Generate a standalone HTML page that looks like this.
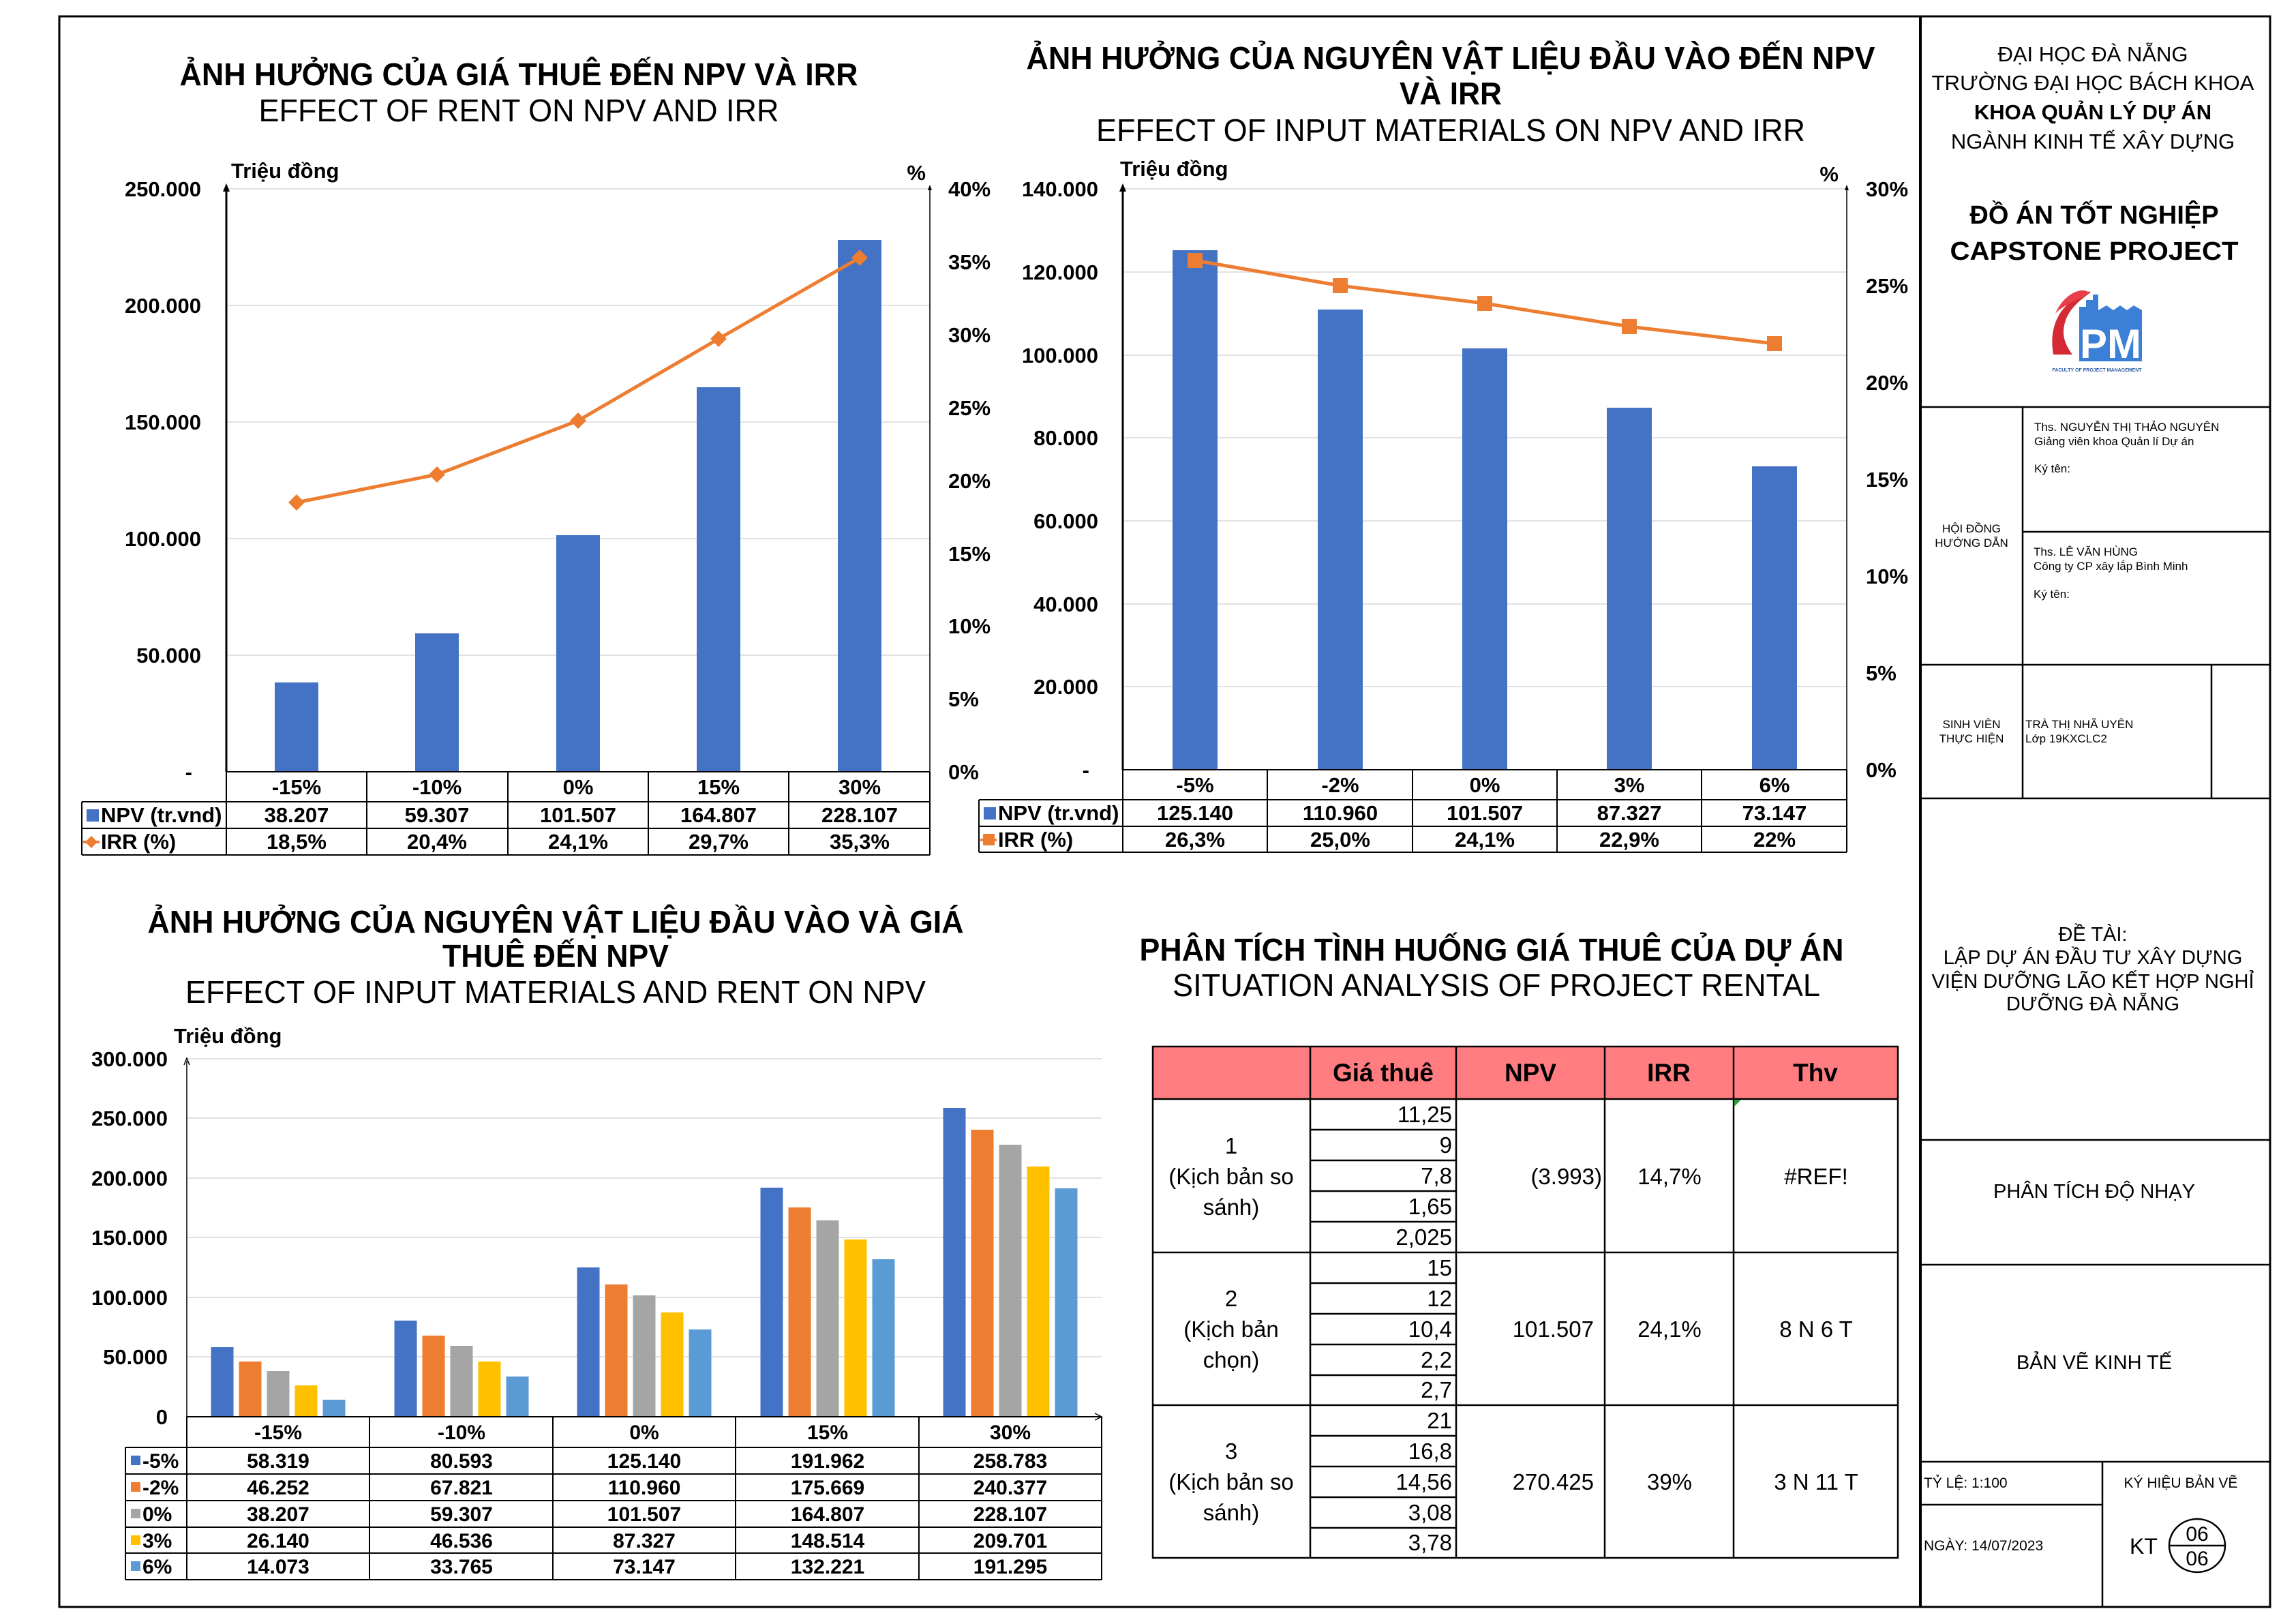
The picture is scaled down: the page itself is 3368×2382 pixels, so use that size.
<!DOCTYPE html>
<html><head><meta charset="utf-8"><style>
html,body{margin:0;padding:0;background:#fff}
svg{display:block}
text{font-family:"Liberation Sans",Arial,sans-serif;fill:#000}
.b{font-weight:bold}
</style></head><body>
<svg width="3368" height="2382" viewBox="0 0 3368 2382" xmlns="http://www.w3.org/2000/svg">
<rect width="3368" height="2382" fill="#fff"/>
<rect x="87" y="24" width="3243" height="2333" fill="none" stroke="#000" stroke-width="3"/>
<line x1="2817" y1="24" x2="2817" y2="2357" stroke="#000" stroke-width="4"/>

<!-- ================= CHART 1 ================= -->
<text x="761" y="125" text-anchor="middle" class="b" font-size="46" textLength="995" lengthAdjust="spacingAndGlyphs">ẢNH HƯỞNG CỦA GIÁ THUÊ ĐẾN NPV VÀ IRR</text>
<text x="761" y="178" text-anchor="middle" font-size="46" textLength="763" lengthAdjust="spacingAndGlyphs">EFFECT OF RENT ON NPV AND IRR</text>
<text x="339" y="261" class="b" font-size="31">Triệu đồng</text>
<text x="1358" y="264" text-anchor="end" class="b" font-size="31">%</text>
<g stroke="#d9d9d9" stroke-width="1.5">
<line x1="332" y1="277" x2="1364" y2="277"/><line x1="332" y1="448" x2="1364" y2="448"/>
<line x1="332" y1="619" x2="1364" y2="619"/><line x1="332" y1="790" x2="1364" y2="790"/>
<line x1="332" y1="961" x2="1364" y2="961"/></g>
<g class="b" font-size="31" text-anchor="end">
<text x="295" y="288">250.000</text><text x="295" y="459">200.000</text><text x="295" y="630">150.000</text>
<text x="295" y="801">100.000</text><text x="295" y="972">50.000</text><text x="282" y="1143">-</text></g>
<g class="b" font-size="31">
<text x="1391" y="288">40%</text><text x="1391" y="395">35%</text><text x="1391" y="502">30%</text>
<text x="1391" y="609">25%</text><text x="1391" y="716">20%</text><text x="1391" y="823">15%</text>
<text x="1391" y="929">10%</text><text x="1391" y="1036">5%</text><text x="1391" y="1143">0%</text></g>
<g fill="#4472C4">
<rect x="403" y="1001" width="64" height="131"/><rect x="609" y="929" width="64" height="203"/>
<rect x="816" y="785" width="64" height="347"/><rect x="1022" y="568" width="64" height="564"/>
<rect x="1229" y="352" width="64" height="780"/></g>
<line x1="332" y1="1132" x2="332" y2="279" stroke="#000" stroke-width="3"/>
<path d="M332 269 L327 281 L337 281Z"/>
<line x1="1364" y1="1132" x2="1364" y2="279" stroke="#000" stroke-width="1.5"/>
<path d="M1364 271 L1361 279 L1367 279Z"/>
<polyline points="435,737 641,696 848,617 1054,497 1261,378" fill="none" stroke="#ED7D31" stroke-width="5"/>
<g fill="#ED7D31">
<path d="M435 725 L447 737 L435 749 L423 737Z"/><path d="M641 684 L653 696 L641 708 L629 696Z"/>
<path d="M848 605 L860 617 L848 629 L836 617Z"/><path d="M1054 485 L1066 497 L1054 509 L1042 497Z"/>
<path d="M1261 366 L1273 378 L1261 390 L1249 378Z"/></g>
<g stroke="#000" stroke-width="2" fill="none">
<line x1="332" y1="1132" x2="1364" y2="1132"/>
<line x1="120" y1="1176" x2="1364" y2="1176"/><line x1="120" y1="1215" x2="1364" y2="1215"/>
<line x1="120" y1="1254" x2="1364" y2="1254"/>
<line x1="120" y1="1176" x2="120" y2="1254"/>
<line x1="332" y1="1132" x2="332" y2="1254"/><line x1="538" y1="1132" x2="538" y2="1254"/>
<line x1="745" y1="1132" x2="745" y2="1254"/><line x1="951" y1="1132" x2="951" y2="1254"/>
<line x1="1157" y1="1132" x2="1157" y2="1254"/><line x1="1364" y1="1132" x2="1364" y2="1254"/></g>
<g class="b" font-size="31" text-anchor="middle">
<text x="435" y="1165">-15%</text><text x="641" y="1165">-10%</text><text x="848" y="1165">0%</text><text x="1054" y="1165">15%</text><text x="1261" y="1165">30%</text>
<text x="435" y="1206">38.207</text><text x="641" y="1206">59.307</text><text x="848" y="1206">101.507</text><text x="1054" y="1206">164.807</text><text x="1261" y="1206">228.107</text>
<text x="435" y="1245">18,5%</text><text x="641" y="1245">20,4%</text><text x="848" y="1245">24,1%</text><text x="1054" y="1245">29,7%</text><text x="1261" y="1245">35,3%</text></g>
<rect x="127" y="1187" width="18" height="18" fill="#4472C4"/>
<text x="148" y="1206" class="b" font-size="31">NPV (tr.vnd)</text>
<line x1="122" y1="1235" x2="146" y2="1235" stroke="#ED7D31" stroke-width="4"/>
<path d="M134 1226 L143 1235 L134 1244 L125 1235Z" fill="#ED7D31"/>
<text x="148" y="1245" class="b" font-size="31">IRR (%)</text>

<!-- ================= CHART 2 ================= -->
<text x="2128" y="101" text-anchor="middle" class="b" font-size="46" textLength="1245" lengthAdjust="spacingAndGlyphs">ẢNH HƯỞNG CỦA NGUYÊN VẬT LIỆU ĐẦU VÀO ĐẾN NPV</text>
<text x="2128" y="153" text-anchor="middle" class="b" font-size="46" textLength="150" lengthAdjust="spacingAndGlyphs">VÀ IRR</text>
<text x="2128" y="207" text-anchor="middle" font-size="46" textLength="1040" lengthAdjust="spacingAndGlyphs">EFFECT OF INPUT MATERIALS ON NPV AND IRR</text>
<text x="1643" y="258" class="b" font-size="31">Triệu đồng</text>
<text x="2697" y="266" text-anchor="end" class="b" font-size="31">%</text>
<g stroke="#d9d9d9" stroke-width="1.5">
<line x1="1647" y1="277" x2="2709" y2="277"/><line x1="1647" y1="399" x2="2709" y2="399"/>
<line x1="1647" y1="521" x2="2709" y2="521"/><line x1="1647" y1="642" x2="2709" y2="642"/>
<line x1="1647" y1="764" x2="2709" y2="764"/><line x1="1647" y1="886" x2="2709" y2="886"/>
<line x1="1647" y1="1007" x2="2709" y2="1007"/></g>
<g class="b" font-size="31" text-anchor="end">
<text x="1611" y="288">140.000</text><text x="1611" y="410">120.000</text><text x="1611" y="532">100.000</text>
<text x="1611" y="653">80.000</text><text x="1611" y="775">60.000</text><text x="1611" y="897">40.000</text>
<text x="1611" y="1018">20.000</text><text x="1598" y="1140">-</text></g>
<g class="b" font-size="31">
<text x="2737" y="288">30%</text><text x="2737" y="430">25%</text><text x="2737" y="572">20%</text>
<text x="2737" y="714">15%</text><text x="2737" y="856">10%</text><text x="2737" y="998">5%</text><text x="2737" y="1140">0%</text></g>
<g fill="#4472C4">
<rect x="1720" y="367" width="66" height="762"/><rect x="1933" y="454" width="66" height="675"/>
<rect x="2145" y="511" width="66" height="618"/><rect x="2357" y="598" width="66" height="531"/>
<rect x="2570" y="684" width="66" height="445"/></g>
<line x1="1647" y1="1129" x2="1647" y2="279" stroke="#000" stroke-width="3"/>
<path d="M1647 269 L1642 281 L1652 281Z"/>
<line x1="2709" y1="1129" x2="2709" y2="279" stroke="#000" stroke-width="1.5"/>
<path d="M2709 271 L2706 279 L2712 279Z"/>
<polyline points="1753,382 1966,419 2178,445 2390,479 2603,504" fill="none" stroke="#ED7D31" stroke-width="5"/>
<g fill="#ED7D31">
<rect x="1742" y="371" width="22" height="22"/><rect x="1955" y="408" width="22" height="22"/>
<rect x="2167" y="434" width="22" height="22"/><rect x="2379" y="468" width="22" height="22"/>
<rect x="2592" y="493" width="22" height="22"/></g>
<g stroke="#000" stroke-width="2" fill="none">
<line x1="1647" y1="1129" x2="2709" y2="1129"/>
<line x1="1436" y1="1173" x2="2709" y2="1173"/><line x1="1436" y1="1212" x2="2709" y2="1212"/>
<line x1="1436" y1="1250" x2="2709" y2="1250"/>
<line x1="1436" y1="1173" x2="1436" y2="1250"/>
<line x1="1647" y1="1129" x2="1647" y2="1250"/><line x1="1859" y1="1129" x2="1859" y2="1250"/>
<line x1="2072" y1="1129" x2="2072" y2="1250"/><line x1="2284" y1="1129" x2="2284" y2="1250"/>
<line x1="2496" y1="1129" x2="2496" y2="1250"/><line x1="2709" y1="1129" x2="2709" y2="1250"/></g>
<g class="b" font-size="31" text-anchor="middle">
<text x="1753" y="1162">-5%</text><text x="1966" y="1162">-2%</text><text x="2178" y="1162">0%</text><text x="2390" y="1162">3%</text><text x="2603" y="1162">6%</text>
<text x="1753" y="1203">125.140</text><text x="1966" y="1203">110.960</text><text x="2178" y="1203">101.507</text><text x="2390" y="1203">87.327</text><text x="2603" y="1203">73.147</text>
<text x="1753" y="1242">26,3%</text><text x="1966" y="1242">25,0%</text><text x="2178" y="1242">24,1%</text><text x="2390" y="1242">22,9%</text><text x="2603" y="1242">22%</text></g>
<rect x="1443" y="1184" width="18" height="18" fill="#4472C4"/>
<text x="1464" y="1203" class="b" font-size="31">NPV (tr.vnd)</text>
<line x1="1438" y1="1232" x2="1462" y2="1232" stroke="#ED7D31" stroke-width="4"/>
<rect x="1442" y="1223" width="17" height="17" fill="#ED7D31"/>
<text x="1464" y="1242" class="b" font-size="31">IRR (%)</text>

<!-- ================= CHART 3 ================= -->
<text x="815" y="1368" text-anchor="middle" class="b" font-size="46" textLength="1197" lengthAdjust="spacingAndGlyphs">ẢNH HƯỞNG CỦA NGUYÊN VẬT LIỆU ĐẦU VÀO VÀ GIÁ</text>
<text x="815" y="1418" text-anchor="middle" class="b" font-size="46" textLength="332" lengthAdjust="spacingAndGlyphs">THUÊ ĐẾN NPV</text>
<text x="815" y="1471" text-anchor="middle" font-size="46" textLength="1086" lengthAdjust="spacingAndGlyphs">EFFECT OF INPUT MATERIALS AND RENT ON NPV</text>
<text x="255" y="1530" class="b" font-size="31">Triệu đồng</text>
<g stroke="#d9d9d9" stroke-width="1.5">
<line x1="274" y1="1553" x2="1616" y2="1553"/><line x1="274" y1="1640" x2="1616" y2="1640"/>
<line x1="274" y1="1728" x2="1616" y2="1728"/><line x1="274" y1="1815" x2="1616" y2="1815"/>
<line x1="274" y1="1903" x2="1616" y2="1903"/><line x1="274" y1="1990" x2="1616" y2="1990"/></g>
<g class="b" font-size="31" text-anchor="end">
<text x="246" y="1564">300.000</text><text x="246" y="1651">250.000</text><text x="246" y="1739">200.000</text>
<text x="246" y="1826">150.000</text><text x="246" y="1914">100.000</text><text x="246" y="2001">50.000</text><text x="246" y="2089">0</text></g>
<g>
<g fill="#4472C4"><rect x="309.5" y="1976" width="33" height="102"/><rect x="578.5" y="1937" width="33" height="141"/><rect x="846.5" y="1859" width="33" height="219"/><rect x="1115.5" y="1742" width="33" height="336"/><rect x="1383.5" y="1625" width="33" height="453"/></g>
<g fill="#ED7D31"><rect x="350.5" y="1997" width="33" height="81"/><rect x="619.5" y="1959" width="33" height="119"/><rect x="887.5" y="1884" width="33" height="194"/><rect x="1156.5" y="1771" width="33" height="307"/><rect x="1424.5" y="1657" width="33" height="421"/></g>
<g fill="#A5A5A5"><rect x="391.5" y="2011" width="33" height="67"/><rect x="660.5" y="1974" width="33" height="104"/><rect x="928.5" y="1900" width="33" height="178"/><rect x="1197.5" y="1790" width="33" height="288"/><rect x="1465.5" y="1679" width="33" height="399"/></g>
<g fill="#FFC000"><rect x="432.5" y="2032" width="33" height="46"/><rect x="701.5" y="1997" width="33" height="81"/><rect x="969.5" y="1925" width="33" height="153"/><rect x="1238.5" y="1818" width="33" height="260"/><rect x="1506.5" y="1711" width="33" height="367"/></g>
<g fill="#5B9BD5"><rect x="473.5" y="2053" width="33" height="25"/><rect x="742.5" y="2019" width="33" height="59"/><rect x="1010.5" y="1950" width="33" height="128"/><rect x="1279.5" y="1847" width="33" height="231"/><rect x="1547.5" y="1743" width="33" height="335"/></g>
</g>
<line x1="274" y1="2078" x2="274" y2="1556" stroke="#000" stroke-width="1.5"/>
<path d="M270 1562 L274 1552 L278 1562" fill="none" stroke="#000" stroke-width="1.5"/>
<g stroke="#000" stroke-width="2" fill="none">
<line x1="274" y1="2078" x2="1616" y2="2078"/>
<line x1="184" y1="2123" x2="1616" y2="2123"/><line x1="184" y1="2162" x2="1616" y2="2162"/>
<line x1="184" y1="2201" x2="1616" y2="2201"/><line x1="184" y1="2240" x2="1616" y2="2240"/>
<line x1="184" y1="2278" x2="1616" y2="2278"/><line x1="184" y1="2317" x2="1616" y2="2317"/>
<line x1="184" y1="2123" x2="184" y2="2317"/>
<line x1="274" y1="2078" x2="274" y2="2317"/><line x1="542" y1="2078" x2="542" y2="2317"/>
<line x1="811" y1="2078" x2="811" y2="2317"/><line x1="1079" y1="2078" x2="1079" y2="2317"/>
<line x1="1348" y1="2078" x2="1348" y2="2317"/><line x1="1616" y1="2078" x2="1616" y2="2317"/></g>
<path d="M1606 2073 L1616 2078 L1606 2083" fill="none" stroke="#000" stroke-width="1.5"/>
<g class="b" font-size="30" text-anchor="middle">
<text x="408" y="2111">-15%</text><text x="677" y="2111">-10%</text><text x="945" y="2111">0%</text><text x="1214" y="2111">15%</text><text x="1482" y="2111">30%</text>
<text x="408" y="2153">58.319</text><text x="677" y="2153">80.593</text><text x="945" y="2153">125.140</text><text x="1214" y="2153">191.962</text><text x="1482" y="2153">258.783</text>
<text x="408" y="2192">46.252</text><text x="677" y="2192">67.821</text><text x="945" y="2192">110.960</text><text x="1214" y="2192">175.669</text><text x="1482" y="2192">240.377</text>
<text x="408" y="2231">38.207</text><text x="677" y="2231">59.307</text><text x="945" y="2231">101.507</text><text x="1214" y="2231">164.807</text><text x="1482" y="2231">228.107</text>
<text x="408" y="2270">26.140</text><text x="677" y="2270">46.536</text><text x="945" y="2270">87.327</text><text x="1214" y="2270">148.514</text><text x="1482" y="2270">209.701</text>
<text x="408" y="2308">14.073</text><text x="677" y="2308">33.765</text><text x="945" y="2308">73.147</text><text x="1214" y="2308">132.221</text><text x="1482" y="2308">191.295</text></g>
<rect x="192" y="2135" width="14" height="14" fill="#4472C4"/><rect x="192" y="2174" width="14" height="14" fill="#ED7D31"/>
<rect x="192" y="2213" width="14" height="14" fill="#A5A5A5"/><rect x="192" y="2252" width="14" height="14" fill="#FFC000"/>
<rect x="192" y="2290" width="14" height="14" fill="#5B9BD5"/>
<g class="b" font-size="30">
<text x="209" y="2153">-5%</text><text x="209" y="2192">-2%</text><text x="209" y="2231">0%</text><text x="209" y="2270">3%</text><text x="209" y="2308">6%</text></g>

<!-- ================= TABLE 4 ================= -->
<text x="2188" y="1409" text-anchor="middle" class="b" font-size="46" textLength="1033" lengthAdjust="spacingAndGlyphs">PHÂN TÍCH TÌNH HUỐNG GIÁ THUÊ CỦA DỰ ÁN</text>
<text x="2195" y="1461" text-anchor="middle" font-size="46" textLength="950" lengthAdjust="spacingAndGlyphs">SITUATION ANALYSIS OF PROJECT RENTAL</text>
<rect x="1691" y="1535" width="1093" height="77" fill="#FF7C80"/>
<g stroke="#000" stroke-width="2.5" fill="none">
<rect x="1691" y="1535" width="1093" height="750"/>
<line x1="1691" y1="1612" x2="2784" y2="1612"/>
<line x1="1691" y1="1837" x2="2784" y2="1837"/><line x1="1691" y1="2061" x2="2784" y2="2061"/>
<line x1="1922" y1="1535" x2="1922" y2="2285"/><line x1="2136" y1="1535" x2="2136" y2="2285"/>
<line x1="2354" y1="1535" x2="2354" y2="2285"/><line x1="2543" y1="1535" x2="2543" y2="2285"/>
<line x1="1922" y1="1657" x2="2136" y2="1657"/><line x1="1922" y1="1702" x2="2136" y2="1702"/>
<line x1="1922" y1="1747" x2="2136" y2="1747"/><line x1="1922" y1="1792" x2="2136" y2="1792"/>
<line x1="1922" y1="1882" x2="2136" y2="1882"/><line x1="1922" y1="1927" x2="2136" y2="1927"/>
<line x1="1922" y1="1972" x2="2136" y2="1972"/><line x1="1922" y1="2017" x2="2136" y2="2017"/>
<line x1="1922" y1="2106" x2="2136" y2="2106"/><line x1="1922" y1="2151" x2="2136" y2="2151"/>
<line x1="1922" y1="2196" x2="2136" y2="2196"/><line x1="1922" y1="2241" x2="2136" y2="2241"/></g>
<path d="M2544 1613 L2554 1613 L2544 1623Z" fill="#2a9d3a"/>
<g class="b" font-size="37" text-anchor="middle">
<text x="2029" y="1586">Giá thuê</text><text x="2245" y="1586">NPV</text><text x="2448" y="1586">IRR</text><text x="2663" y="1586">Thv</text></g>
<g font-size="33" text-anchor="end">
<text x="2130" y="1646">11,25</text><text x="2130" y="1691">9</text><text x="2130" y="1736">7,8</text><text x="2130" y="1781">1,65</text><text x="2130" y="1826">2,025</text>
<text x="2130" y="1871">15</text><text x="2130" y="1916">12</text><text x="2130" y="1961">10,4</text><text x="2130" y="2006">2,2</text><text x="2130" y="2050">2,7</text>
<text x="2130" y="2095">21</text><text x="2130" y="2140">16,8</text><text x="2130" y="2185">14,56</text><text x="2130" y="2230">3,08</text><text x="2130" y="2274">3,78</text>
<text x="2350" y="1737">(3.993)</text><text x="2338" y="1961">101.507</text><text x="2338" y="2185">270.425</text></g>
<g font-size="33" text-anchor="middle">
<text x="2449" y="1737">14,7%</text><text x="2449" y="1961">24,1%</text><text x="2449" y="2185">39%</text>
<text x="2664" y="1737">#REF!</text><text x="2664" y="1961">8 N 6 T</text><text x="2664" y="2185">3 N 11 T</text>
<text x="1806" y="1692">1</text><text x="1806" y="1737">(Kịch bản so</text><text x="1806" y="1782">sánh)</text>
<text x="1806" y="1916">2</text><text x="1806" y="1961">(Kịch bản</text><text x="1806" y="2006">chọn)</text>
<text x="1806" y="2140">3</text><text x="1806" y="2185">(Kịch bản so</text><text x="1806" y="2230">sánh)</text></g>

<!-- ================= RIGHT PANEL ================= -->
<g stroke="#000" stroke-width="2.5" fill="none">
<line x1="2817" y1="597" x2="3330" y2="597"/><line x1="2817" y1="975" x2="3330" y2="975"/>
<line x1="2817" y1="1171" x2="3330" y2="1171"/><line x1="2967" y1="780" x2="3330" y2="780"/>
<line x1="2967" y1="597" x2="2967" y2="1171"/><line x1="3244" y1="975" x2="3244" y2="1171"/>
<line x1="2817" y1="1672" x2="3330" y2="1672"/><line x1="2817" y1="1855" x2="3330" y2="1855"/>
<line x1="2817" y1="2144" x2="3330" y2="2144"/><line x1="2817" y1="2207" x2="3084" y2="2207"/>
<line x1="3084" y1="2144" x2="3084" y2="2357"/>
<ellipse cx="3223" cy="2267" rx="41" ry="39"/><line x1="3182" y1="2267" x2="3264" y2="2267"/></g>
<g font-size="31" text-anchor="middle">
<text x="3070" y="90">ĐẠI HỌC ĐÀ NẴNG</text>
<text x="3070" y="132" textLength="473" lengthAdjust="spacingAndGlyphs">TRƯỜNG ĐẠI HỌC BÁCH KHOA</text>
<text x="3070" y="175" class="b">KHOA QUẢN LÝ DỰ ÁN</text>
<text x="3070" y="218">NGÀNH KINH TẾ XÂY DỰNG</text></g>
<g class="b" font-size="38" text-anchor="middle">
<text x="3072" y="328">ĐỒ ÁN TỐT NGHIỆP</text>
<text x="3072" y="381" textLength="423" lengthAdjust="spacingAndGlyphs">CAPSTONE PROJECT</text></g>
<path d="M3030 470 C3040 440 3080 425 3062 428 C3020 445 3005 480 3012 520 L3040 520 C3025 500 3025 485 3030 470Z" fill="#d42a35"/>
<path d="M3020 455 C3040 440 3070 432 3063 428 C3050 420 3025 435 3015 460Z" fill="#e8404a"/>
<path d="M3050 450 L3060 450 L3060 440 L3070 440 L3070 432 L3078 432 L3078 455 L3090 448 L3100 455 L3110 448 L3120 455 L3130 448 L3142 455 L3142 530 L3050 530Z" fill="#3b7fd6"/>
<text x="3096" y="525" text-anchor="middle" class="b" font-size="60" style="fill:#fff">PM</text>
<text x="3076" y="545" text-anchor="middle" class="b" font-size="7" style="fill:#2f5fa8">FACULTY OF PROJECT MANAGEMENT</text>
<g font-size="17">
<text x="2984" y="632">Ths. NGUYỄN THỊ THẢO NGUYÊN</text>
<text x="2984" y="653">Giảng viên khoa Quản lí Dự án</text>
<text x="2984" y="693">Ký tên:</text>
<text x="2983" y="815">Ths. LÊ VĂN HÙNG</text>
<text x="2983" y="836">Công ty CP xây lắp Bình Minh</text>
<text x="2983" y="877">Ký tên:</text>
<text x="2971" y="1068">TRÀ THỊ NHÃ UYÊN</text>
<text x="2971" y="1089">Lớp 19KXCLC2</text></g>
<g font-size="17" text-anchor="middle">
<text x="2892" y="781">HỘI ĐỒNG</text><text x="2892" y="802">HƯỚNG DẪN</text>
<text x="2892" y="1068">SINH VIÊN</text><text x="2892" y="1089">THỰC HIỆN</text></g>
<g font-size="29" text-anchor="middle">
<text x="3070" y="1380">ĐỀ TÀI:</text>
<text x="3070" y="1414">LẬP DỰ ÁN ĐẦU TƯ XÂY DỰNG</text>
<text x="3070" y="1449" textLength="473" lengthAdjust="spacingAndGlyphs">VIỆN DƯỠNG LÃO KẾT HỢP NGHỈ</text>
<text x="3070" y="1482">DƯỠNG ĐÀ NẴNG</text>
<text x="3072" y="1757">PHÂN TÍCH ĐỘ NHẠY</text>
<text x="3072" y="2008">BẢN VẼ KINH TẾ</text></g>
<g font-size="21">
<text x="2822" y="2182">TỶ LỆ:  1:100</text>
<text x="2822" y="2274">NGÀY:  14/07/2023</text>
<text x="3199" y="2182" text-anchor="middle">KÝ HIỆU BẢN VẼ</text></g>
<text x="3124" y="2279" font-size="32">KT</text>
<text x="3223" y="2260" font-size="30" text-anchor="middle">06</text>
<text x="3223" y="2296" font-size="30" text-anchor="middle">06</text>
</svg>
</body></html>
